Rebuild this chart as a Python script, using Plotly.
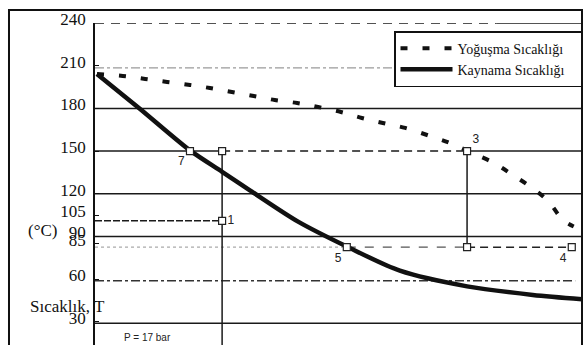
import plotly.graph_objects as go

# ---- data (x: relative position along the process, 0..100; y: temperature °C) ----
kaynama_x = [0.4, 9.2, 19.5, 26.1, 31.8, 41.7, 51.7, 62.6, 76.4, 89.9, 100.0]
kaynama_y = [204.2, 179.8, 150.5, 135.5, 122.5, 100.5, 83.0, 66.0, 55.0, 49.0, 46.0]

yogusma_x = [0.4, 5.7, 10.3, 14.8, 19.5, 23.6, 28.1, 32.6, 36.9, 41.5, 45.8, 50.5,
             54.8, 59.1, 63.7, 68.8, 72.9, 77.0, 81.9, 85.8, 89.5, 93.0, 96.1, 98.3]
yogusma_y = [204.2, 202.8, 200.7, 198.6, 196.5, 194.3, 191.5, 188.7, 185.9, 183.8, 181.0, 177.5,
             173.3, 169.8, 166.3, 160.6, 155.7, 149.4, 141.7, 133.2, 124.8, 115.0, 101.6, 97.0]

# process state points
state_x = [19.5, 26.1, 26.1, 76.4, 76.4, 51.7, 97.9]
state_y = [150, 150, 101, 150, 82.5, 82.5, 82.5]
state_labels = ["7", "", "1", "3", "", "5", "4"]
state_textpos = ["bottom left", "top center", "middle right", "top right",
                 "bottom center", "bottom left", "bottom left"]

# y axis tick labels
tick_vals = [240, 210, 180, 150, 120, 105, 90, 85, 60, 30]
tick_text = ["240", "210", "180", "150", "120", "105", "90", "85", "60", "30"]

full_solid_levels = [180, 120, 90, 29]
x_min, x_max = 0, 100
y_min, y_max = 13.8, 240

fig = go.Figure()

pad = "\u00a0\u00a0\u00a0"
fig.add_trace(go.Scatter(
    x=yogusma_x, y=yogusma_y, mode="lines", name="Yoğuşma Sıcaklığı" + pad,
    line=dict(color="#111", width=4, dash="7px,15px", shape="spline"),
    legendgroup="a"))
fig.add_trace(go.Scatter(
    x=kaynama_x, y=kaynama_y, mode="lines", name="Kaynama Sıcaklığı" + pad,
    line=dict(color="#111", width=4.5, shape="spline", smoothing=0.8),
    legendgroup="b"))

shapes = []


def hline(y, x0, x1, dash="solid", color="#1a1a1a", width=1.5):
    shapes.append(dict(type="line", xref="x", yref="y", x0=x0, x1=x1, y0=y, y1=y,
                       line=dict(color=color, width=width, dash=dash), layer="below"))


def vline(x, y0, y1, color="#1a1a1a", width=1.5):
    shapes.append(dict(type="line", xref="x", yref="y", x0=x, x1=x, y0=y0, y1=y1,
                       line=dict(color=color, width=width), layer="below"))


for lv in full_solid_levels:
    hline(lv, x_min, x_max)

# top 240 line
hline(240, 0, 82.5, dash="9px,7px", width=1.5)
hline(240, 82.5, 100, width=1.5)
# light 210 line
hline(208.5, 0, 61.6, dash="dashdot", color="#9a9a9a", width=1.2)
# 150 line
hline(150, 0, 26.1)
hline(150, 26.1, 76.4, dash="8px,5px")
hline(150, 76.4, 100)
# state 1 line
hline(101, 0, 26.1, dash="7px,2px")
# state 4-5-6 line
hline(82.5, 0, 51.7, dash="dot", color="#aaaaaa", width=1.2)
hline(82.5, 51.7, 76.4, dash="dash", color="#555", width=1.2)
hline(82.5, 76.4, 97.9, dash="8px,5px", color="#222", width=1.5)
# 60 line
hline(59, 0, 98.6, dash="dashdot", color="#333", width=1.5)
# verticals
vline(26.1, 150, y_min)
vline(76.4, 150, 82.5)

# outer frame
shapes.append(dict(type="rect", xref="paper", yref="paper",
                   x0=-0.1766, x1=1.0, y0=-0.05, y1=1.0404,
                   line=dict(color="#111", width=2)))

fig.add_trace(go.Scatter(
    x=state_x, y=state_y, mode="markers+text", text=state_labels,
    textposition=state_textpos, showlegend=False,
    textfont=dict(family="Liberation Sans", size=12, color="#222"),
    marker=dict(symbol="square", size=7, color="white",
                line=dict(color="#222", width=1.2))))

fig.update_layout(
    width=586, height=345,
    margin=dict(l=95, r=4, t=23, b=0),
    paper_bgcolor="white", plot_bgcolor="white",
    shapes=shapes,
    showlegend=True,
    legend=dict(x=1, xanchor="right", y=0.975, yanchor="top",
                bgcolor="white", bordercolor="#111", borderwidth=1.5,
                font=dict(family="Liberation Serif", size=14, color="#111"),
                itemwidth=52, tracegroupgap=0),
    xaxis=dict(visible=False, range=[x_min, x_max]),
    yaxis=dict(range=[y_min, y_max], showgrid=False, zeroline=False,
               showline=True, linecolor="#111", linewidth=1.5,
               ticks="inside", ticklen=4, tickcolor="#111",
               tickvals=tick_vals, ticktext=tick_text,
               ticklabelshift=-4, ticklabelstandoff=4,
               tickfont=dict(family="Liberation Serif", size=17, color="#111")),
    annotations=[
        dict(text="(°C)", xref="paper", yref="paper", x=-0.1068, y=0.357,
             xanchor="center", showarrow=False,
             font=dict(family="Liberation Serif", size=17, color="#111")),
        dict(text="Sıcaklık, T", xref="paper", yref="paper", x=-0.1376, y=0.0839,
             xanchor="left", showarrow=False,
             font=dict(family="Liberation Serif", size=17, color="#111")),
        dict(text="P = 17 bar", xref="x", yref="y", x=10.7, y=18.8, showarrow=False,
             font=dict(family="Liberation Sans", size=10, color="#222")),
    ],
)

fig.write_html("out.html", config={"displayModeBar": False},
               post_script="document.body.style.margin='0px';")
